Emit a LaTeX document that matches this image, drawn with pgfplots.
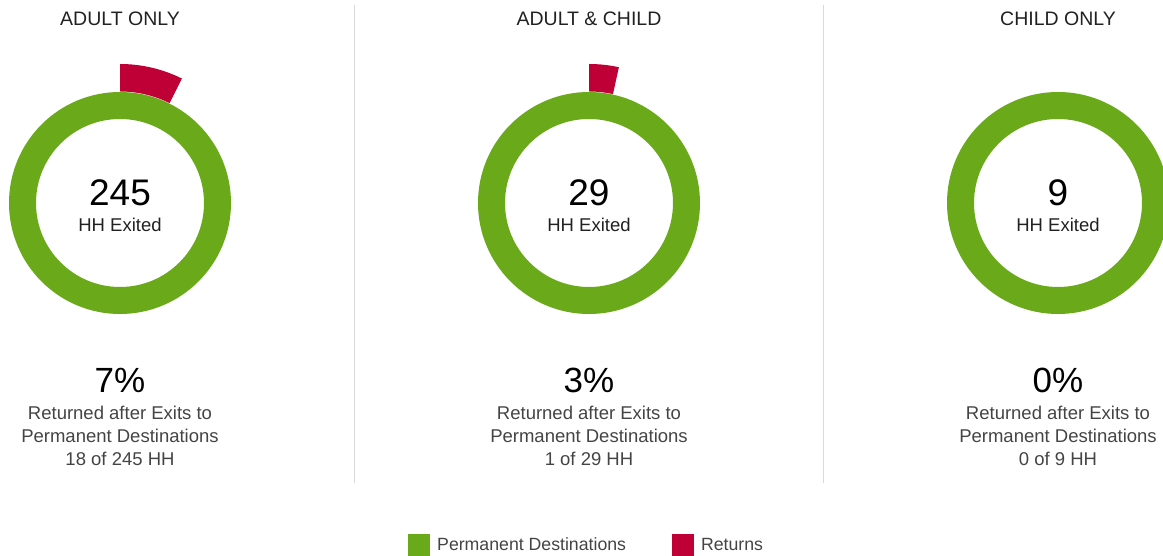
\documentclass[border=0pt]{standalone}
\usepackage{fontspec}
\setmainfont{Liberation Sans}
\usepackage{pgfplots}
\pgfplotsset{compat=1.18}

\definecolor{permgreen}{HTML}{6AA91A}
\definecolor{retred}{HTML}{BE0036}
\definecolor{sepgray}{HTML}{D9D9D9}
\definecolor{txtgray}{HTML}{444444}

% households exited and returns, per group
\def\totA{245}\def\retA{18}
\def\totB{29}\def\retB{1}
\def\totC{9}\def\retC{0}

\pgfmathsetmacro\angA{360*\retA/\totA}
\pgfmathsetmacro\angB{360*\retB/\totB}
\pgfmathsetmacro\angC{360*\retC/\totC}
\pgfmathtruncatemacro\pctA{round(100*\retA/\totA)}
\pgfmathtruncatemacro\pctB{round(100*\retB/\totB)}
\pgfmathtruncatemacro\pctC{round(100*\retC/\totC)}

% cx, angle, total, returns, pct, title
\newcommand{\donut}[6]{%
  \fill[permgreen, even odd rule] (axis cs:#1,353) circle[radius=111pt]
        (axis cs:#1,353) circle[radius=84pt];
  \ifdim #2pt>0pt
  \fill[retred] ([shift={(90:111.5pt)}]axis cs:#1,353)
        arc[start angle=90, end angle={90-#2}, radius=111.5pt]
        -- ([shift={({90-#2}:139pt)}]axis cs:#1,353)
        arc[start angle={90-#2}, end angle=90, radius=139pt] -- cycle;
  \fi
  \node[anchor=base, text=black!87, font=\fontsize{19.5}{23}\selectfont] at (axis cs:#1,530) {#6};
  \node[anchor=base, text=black, font=\fontsize{37}{40}\selectfont] at (axis cs:#1,350) {#3};
  \node[anchor=base, text=black!87, font=\fontsize{18.5}{21}\selectfont] at (axis cs:#1,324) {HH Exited};
  \node[anchor=base, text=black, font=\fontsize{35}{40}\selectfont] at (axis cs:#1,163) {#5\%};
  \node[anchor=base, text=txtgray, font=\fontsize{18.5}{21}\selectfont] at (axis cs:#1,136.5) {Returned after Exits to};
  \node[anchor=base, text=txtgray, font=\fontsize{18.5}{21}\selectfont] at (axis cs:#1,113.5) {Permanent Destinations};
  \node[anchor=base, text=txtgray, font=\fontsize{18.5}{21}\selectfont] at (axis cs:#1,90.5) {#4 of #3 HH};
}

\begin{document}
\begin{tikzpicture}
\useasboundingbox (0,0) rectangle (1163pt,556pt);
\clip (0,0) rectangle (1163pt,556pt);
\begin{axis}[
    at={(0,0)}, anchor=south west,
    x=1pt, y=1pt,
    xmin=0, xmax=1163, ymin=0, ymax=556,
    hide axis, clip=false,
    legend columns=2,
    legend style={at={(axis cs:408,11)}, anchor=west, draw=none, fill=none,
        inner sep=0pt, font=\fontsize{17.7}{20}\selectfont, text=txtgray,
        nodes={inner sep=0pt},
        /tikz/every odd column/.append style={column sep=7pt},
        /tikz/every even column/.append style={column sep=46pt}},
    legend image code/.code={\fill[#1] (0pt,-11pt) rectangle (22pt,11pt);},
]
\addlegendimage{fill=permgreen, draw=none}
\addlegendentry{Permanent Destinations}
\addlegendimage{fill=retred, draw=none}
\addlegendentry{Returns}

\draw[sepgray, line width=1pt] (axis cs:354,551) -- (axis cs:354,73);
\draw[sepgray, line width=1pt] (axis cs:823,551) -- (axis cs:823,73);

\donut{120}{\angA}{\totA}{\retA}{\pctA}{ADULT ONLY}
\donut{589}{\angB}{\totB}{\retB}{\pctB}{ADULT \& CHILD}
\donut{1058}{\angC}{\totC}{\retC}{\pctC}{CHILD ONLY}
\end{axis}
\end{tikzpicture}
\end{document}
